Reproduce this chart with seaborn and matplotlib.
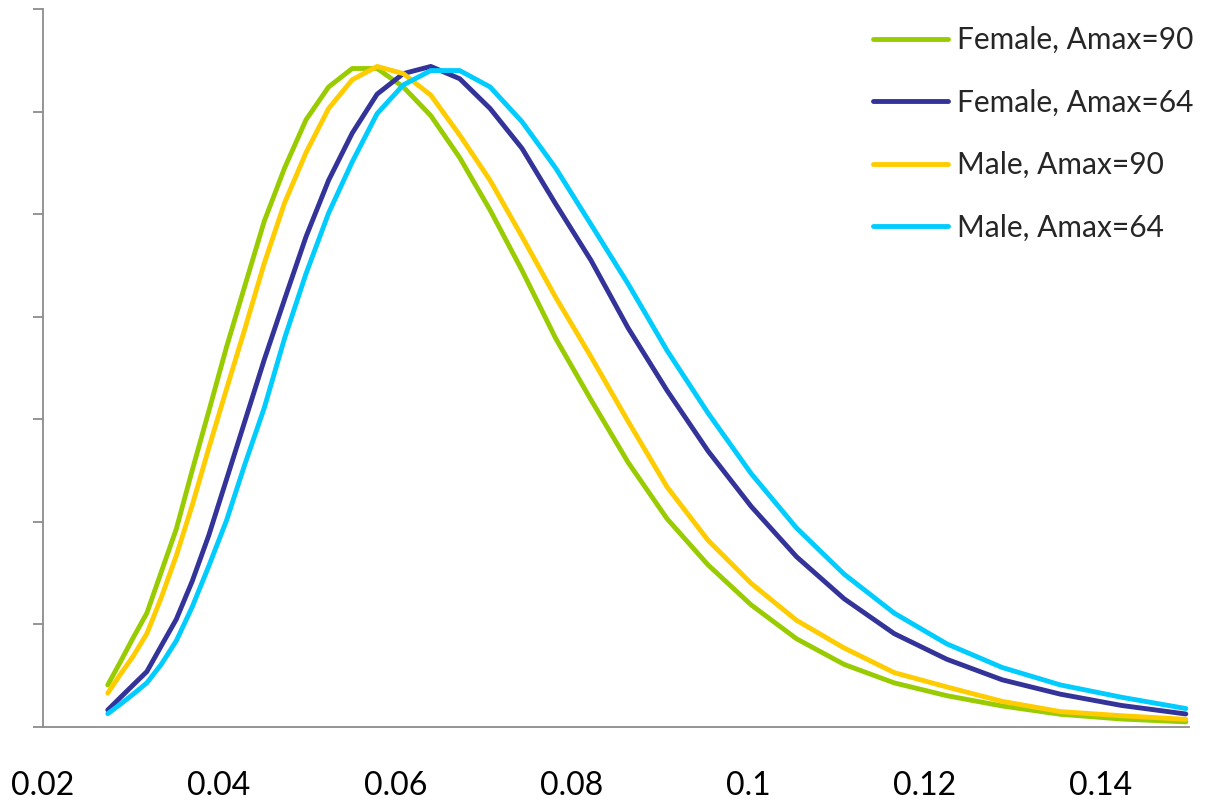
import numpy as np
import pandas as pd
import matplotlib
matplotlib.use("Agg")
import matplotlib.pyplot as plt
import seaborn as sns

# x grid
x_values = [0.02740, 0.02880, 0.03028, 0.03183, 0.03346, 0.03517, 0.03697, 0.03886,
            0.04085, 0.04294, 0.04514, 0.04745, 0.04988, 0.05244, 0.05512, 0.05794,
            0.06091, 0.06403, 0.06731, 0.07075, 0.07438, 0.07818, 0.08219, 0.08640,
            0.09082, 0.09547, 0.10036, 0.10550, 0.11090, 0.11658, 0.12255, 0.12882,
            0.13542, 0.14235, 0.14964]

female_90 = [0.41, 0.63, 0.87, 1.11, 1.51, 1.93, 2.50, 3.08, 3.70, 4.30, 4.93, 5.45,
             5.92, 6.24, 6.42, 6.42, 6.24, 5.96, 5.55, 5.04, 4.45, 3.79, 3.19, 2.58,
             2.03, 1.58, 1.19, 0.86, 0.61, 0.43, 0.305, 0.205, 0.124, 0.078, 0.05]
female_64 = [0.166, 0.285, 0.41, 0.54, 0.79, 1.05, 1.42, 1.87, 2.41, 2.98, 3.58, 4.17,
             4.78, 5.33, 5.79, 6.17, 6.37, 6.44, 6.32, 6.03, 5.64, 5.10, 4.55, 3.89,
             3.28, 2.69, 2.15, 1.66, 1.25, 0.91, 0.66, 0.46, 0.32, 0.21, 0.127]
male_90 = [0.33, 0.51, 0.69, 0.91, 1.26, 1.67, 2.16, 2.72, 3.29, 3.88, 4.52, 5.11,
           5.60, 6.03, 6.31, 6.44, 6.37, 6.16, 5.77, 5.33, 4.78, 4.19, 3.61, 2.98,
           2.34, 1.82, 1.40, 1.04, 0.77, 0.53, 0.39, 0.25, 0.15, 0.11, 0.075]
male_64 = [0.13, 0.22, 0.32, 0.43, 0.61, 0.84, 1.17, 1.57, 2.01, 2.56, 3.11, 3.79,
           4.42, 5.01, 5.51, 5.98, 6.26, 6.40, 6.40, 6.24, 5.90, 5.45, 4.90, 4.32,
           3.67, 3.06, 2.47, 1.94, 1.49, 1.11, 0.81, 0.58, 0.41, 0.29, 0.18]

series_names = ["Female, Amax=90", "Female, Amax=64", "Male, Amax=90", "Male, Amax=64"]
series_colors = ["#99CC00", "#333399", "#FFCC00", "#00CCFF"]
x_ticks = [0.02, 0.04, 0.06, 0.08, 0.1, 0.12, 0.14]
x_tick_labels = ["0.02", "0.04", "0.06", "0.08", "0.1", "0.12", "0.14"]
y_ticks = [0, 1, 2, 3, 4, 5, 6, 7]

sns.set_style("white")
plt.rcParams["font.family"] = ["Lato", "DejaVu Sans"]

frames = []
for name, vals in zip(series_names, [female_90, female_64, male_90, male_64]):
    frames.append(pd.DataFrame({"x": x_values, "y": vals, "series": name}))
df = pd.concat(frames, ignore_index=True)

W, H = 1213, 802
fig = plt.figure(figsize=(W / 100, H / 100), dpi=100)
ax = fig.add_axes([42.5 / W, 75 / H, (1189 - 42.5) / W, (727 - 9) / H])

sns.lineplot(data=df, x="x", y="y", hue="series", hue_order=series_names,
             palette=dict(zip(series_names, series_colors)), linewidth=3.5,
             estimator=None, sort=False, ax=ax)

for ln in ax.lines:
    ln.set_solid_capstyle("round")
    ln.set_solid_joinstyle("round")

ax.set_xlim(0.02, 0.15)
ax.set_ylim(0, 7)
ax.set_xticks(x_ticks)
ax.set_xticklabels(x_tick_labels)
ax.set_yticks(y_ticks)
ax.set_yticklabels([])
ax.set_xlabel("")
ax.set_ylabel("")

for s in ["top", "right"]:
    ax.spines[s].set_visible(False)
for s in ["left", "bottom"]:
    ax.spines[s].set_color("#8c8c8c")
    ax.spines[s].set_linewidth(1.3)

ax.tick_params(axis="both", direction="out", length=7.5, width=1.3, color="#8c8c8c")
ax.tick_params(axis="x", labelsize=23, pad=24, labelcolor="black")
ax.tick_params(axis="y", left=True)

handles, labels = ax.get_legend_handles_labels()
leg = ax.legend(handles, labels, loc="upper left",
                bbox_to_anchor=(873 / W, 1 - 26 / H), bbox_transform=fig.transFigure,
                frameon=False, fontsize=21.5, handlelength=2.5, handletextpad=0.3,
                labelspacing=1.16, borderpad=0, borderaxespad=0)
for lh in leg.get_lines():
    lh.set_linewidth(3.5)
    lh.set_solid_capstyle("round")

fig.savefig("out.png", dpi=100)
